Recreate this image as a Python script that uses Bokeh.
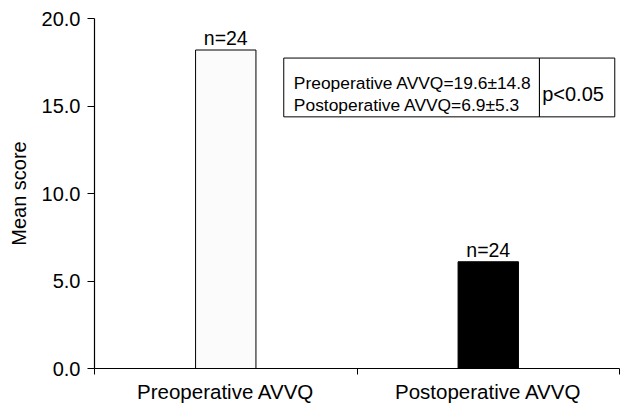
from bokeh.plotting import figure
from bokeh.models import ColumnDataSource, FixedTicker, BoxAnnotation, Label, Range1d
from bokeh.core.properties import value
from bokeh.embed import file_html
from bokeh.resources import INLINE

# ---- data ----
categories = ["Preoperative AVVQ", "Postoperative AVVQ"]
mean_scores = [18.2, 6.1]
sample_sizes = [24, 24]
bar_colors = ["#fbfbfb", "#000000"]
y_ticks = [0, 5, 10, 15, 20]
y_tick_labels = ["0.0", "5.0", "10.0", "15.0", "20.0"]
stat_lines = ["Preoperative AVVQ=19.6\u00b114.8", "Postoperative AVVQ=6.9\u00b15.3"]
p_text = "p<0.05"

FONT = "Liberation Sans"

x_pos = [i + 0.5 for i in range(len(categories))]
src = ColumnDataSource(dict(
    x=x_pos, top=mean_scores, color=bar_colors,
    label=["n=%d" % n for n in sample_sizes],
))

p = figure(width=622, height=405, output_backend="svg", toolbar_location=None,
           x_range=Range1d(0, len(categories)), y_range=Range1d(0, 20),
           min_border_left=94, min_border_right=3, min_border_top=18, min_border_bottom=36)
p.outline_line_color = None
p.xgrid.visible = False
p.ygrid.visible = False
p.background_fill_color = "white"
p.border_fill_color = "white"

p.vbar(x="x", top="top", bottom=0, width=0.23, fill_color="color",
       line_color="black", line_width=1, source=src)
p.text(x="x", y="top", text="label", source=src, text_align="center",
       text_baseline="bottom", y_offset=-1, text_font=value(FONT),
       text_font_size="19.5px", text_color="black")

# x axis: labels at category centres, ticks at boundaries
xa = p.xaxis[0]
xa.ticker = FixedTicker(ticks=x_pos, minor_ticks=list(range(len(categories) + 1)))
xa.major_label_overrides = {x: c for x, c in zip(x_pos, categories)}
xa.major_tick_out = 0
xa.major_tick_in = 0
xa.minor_tick_out = 6
xa.minor_tick_in = 0
xa.minor_tick_line_color = "black"
xa.axis_line_color = "black"
xa.axis_line_width = 1.2
xa.major_label_standoff = 5
xa.major_label_text_font = FONT
xa.major_label_text_font_size = "20.5px"
xa.major_label_text_color = "black"

ya = p.yaxis[0]
ya.ticker = FixedTicker(ticks=y_ticks, minor_ticks=[])
ya.major_label_overrides = {t: l for t, l in zip(y_ticks, y_tick_labels)}
ya.major_tick_out = 7
ya.major_tick_in = 0
ya.major_tick_line_color = "black"
ya.axis_line_color = "black"
ya.axis_line_width = 1.2
ya.major_label_standoff = 7
ya.major_label_text_font = FONT
ya.major_label_text_font_size = "20px"
ya.major_label_text_color = "black"
ya.axis_label = "Mean score"
ya.axis_label_text_font = FONT
ya.axis_label_text_font_size = "20px"
ya.axis_label_text_font_style = "normal"
ya.axis_label_text_color = "black"
ya.axis_label_standoff = 9

# statistics box
box_left, box_div, box_right = 0.721, 1.695, 1.982
box_top, box_bottom = 17.74, 14.38
for l, r in [(box_left, box_div), (box_div, box_right)]:
    p.add_layout(BoxAnnotation(left=l, right=r, top=box_top, bottom=box_bottom,
                               fill_color="white", fill_alpha=1.0,
                               line_color="black", line_alpha=1.0, line_width=1))
for txt, yy in zip(stat_lines, [16.31, 15.08]):
    p.add_layout(Label(x=0.7595, y=yy, text=txt, text_font=FONT,
                       text_font_size="17.4px", text_baseline="alphabetic",
                       text_align="left", text_color="black"))
p.add_layout(Label(x=1.7055, y=15.71, text=p_text, text_font=FONT,
                   text_font_size="20px", text_baseline="alphabetic",
                   text_align="left", text_color="black"))

open("out.html", "w").write(file_html(p, INLINE))
